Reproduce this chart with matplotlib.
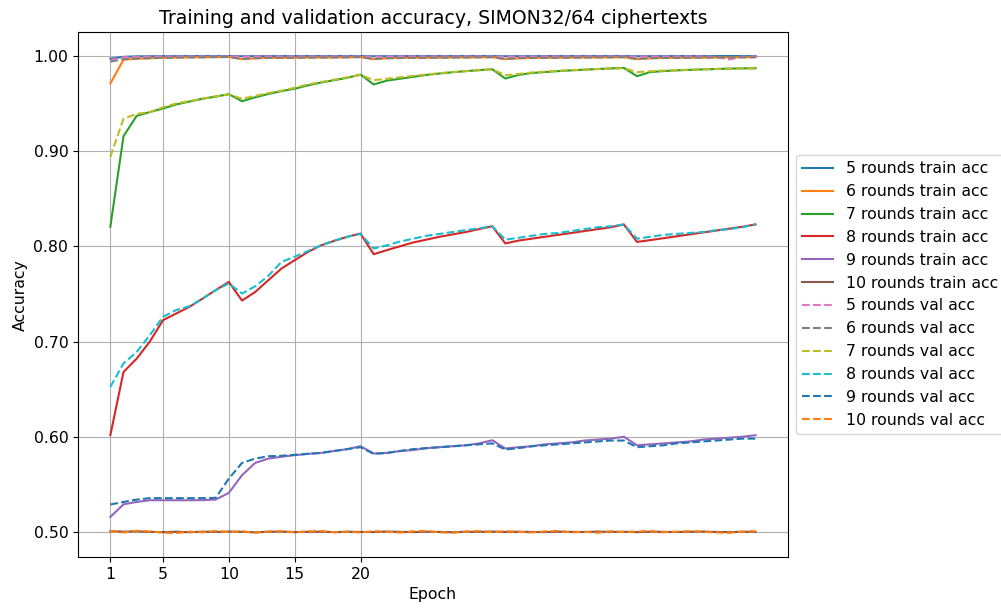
import numpy as np
import matplotlib
matplotlib.use("Agg")
import matplotlib.pyplot as plt

plt.rcParams["font.size"] = 11.3

epochs = list(range(1, 51))
rounds = [5, 6, 7, 8, 9, 10]

# training accuracy per number of rounds
train_5 = [0.9970, 0.9990, 0.9995, 0.9996, 0.9997, 0.9997, 0.9998, 0.9998, 0.9998, 0.9998,
           0.9996, 0.9997, 0.9997, 0.9998, 0.9998, 0.9998, 0.9998, 0.9998, 0.9998, 0.9998,
           0.9996, 0.9997, 0.9997, 0.9998, 0.9998, 0.9998, 0.9998, 0.9998, 0.9998, 0.9998,
           0.9996, 0.9997, 0.9997, 0.9998, 0.9998, 0.9998, 0.9998, 0.9998, 0.9998, 0.9998,
           0.9996, 0.9997, 0.9997, 0.9998, 0.9998, 0.9998, 0.9998, 0.9998, 0.9998, 0.9998]
train_6 = [0.9710, 0.9960, 0.9970, 0.9975, 0.9980, 0.9982, 0.9985, 0.9986, 0.9988, 0.9990,
           0.9965, 0.9975, 0.9978, 0.9980, 0.9981, 0.9982, 0.9983, 0.9984, 0.9985, 0.9988,
           0.9965, 0.9975, 0.9978, 0.9980, 0.9981, 0.9982, 0.9983, 0.9984, 0.9985, 0.9987,
           0.9966, 0.9975, 0.9978, 0.9980, 0.9981, 0.9982, 0.9983, 0.9984, 0.9985, 0.9987,
           0.9966, 0.9975, 0.9978, 0.9980, 0.9981, 0.9982, 0.9983, 0.9984, 0.9985, 0.9986]
train_7 = [0.8204, 0.9157, 0.9370, 0.9410, 0.9447, 0.9490, 0.9520, 0.9550, 0.9572, 0.9598,
           0.9524, 0.9565, 0.9600, 0.9630, 0.9655, 0.9690, 0.9720, 0.9745, 0.9770, 0.9804,
           0.9700, 0.9740, 0.9760, 0.9780, 0.9800, 0.9815, 0.9828, 0.9840, 0.9850, 0.9860,
           0.9762, 0.9800, 0.9820, 0.9830, 0.9840, 0.9848, 0.9855, 0.9862, 0.9868, 0.9874,
           0.9787, 0.9830, 0.9840, 0.9848, 0.9853, 0.9858, 0.9862, 0.9866, 0.9869, 0.9870]
train_8 = [0.6016, 0.6680, 0.6820, 0.7000, 0.7224, 0.7294, 0.7364, 0.7450, 0.7540, 0.7626,
           0.7430, 0.7520, 0.7644, 0.7767, 0.7854, 0.7940, 0.8010, 0.8057, 0.8100, 0.8134,
           0.7917, 0.7960, 0.8000, 0.8040, 0.8070, 0.8100, 0.8125, 0.8150, 0.8180, 0.8211,
           0.8030, 0.8060, 0.8080, 0.8100, 0.8120, 0.8140, 0.8160, 0.8180, 0.8200, 0.8229,
           0.8046, 0.8065, 0.8085, 0.8105, 0.8125, 0.8145, 0.8165, 0.8185, 0.8205, 0.8230]
train_9 = [0.5157, 0.5290, 0.5315, 0.5333, 0.5333, 0.5333, 0.5333, 0.5334, 0.5340, 0.5410,
           0.5596, 0.5725, 0.5770, 0.5790, 0.5806, 0.5820, 0.5830, 0.5850, 0.5870, 0.5900,
           0.5824, 0.5830, 0.5850, 0.5860, 0.5880, 0.5890, 0.5900, 0.5910, 0.5930, 0.5963,
           0.5876, 0.5890, 0.5900, 0.5920, 0.5930, 0.5940, 0.5960, 0.5970, 0.5980, 0.6000,
           0.5910, 0.5920, 0.5930, 0.5940, 0.5950, 0.5970, 0.5980, 0.5990, 0.6000, 0.6016]
train_10 = [0.5008, 0.5003, 0.5006, 0.5001, 0.4998, 0.5002, 0.4997, 0.5003, 0.5000, 0.5004,
            0.5001, 0.4996, 0.5002, 0.5004, 0.4999, 0.5001, 0.5003, 0.4998, 0.5002, 0.5000,
            0.4999, 0.5004, 0.5001, 0.4998, 0.5003, 0.5000, 0.4997, 0.5002, 0.5001, 0.5004,
            0.4999, 0.5002, 0.5000, 0.4998, 0.5003, 0.5001, 0.4999, 0.5004, 0.5000, 0.5002,
            0.4998, 0.5003, 0.5001, 0.4999, 0.5002, 0.5004, 0.5000, 0.4998, 0.5002, 0.5001]

# validation accuracy per number of rounds
val_5 = [0.9955, 0.9985, 0.9990, 0.9992, 0.9993, 0.9993, 0.9994, 0.9994, 0.9994, 0.9994,
         0.9992, 0.9993, 0.9993, 0.9994, 0.9994, 0.9994, 0.9994, 0.9994, 0.9994, 0.9994,
         0.9992, 0.9993, 0.9993, 0.9994, 0.9994, 0.9994, 0.9994, 0.9994, 0.9994, 0.9994,
         0.9992, 0.9993, 0.9993, 0.9994, 0.9994, 0.9994, 0.9994, 0.9994, 0.9994, 0.9994,
         0.9992, 0.9993, 0.9993, 0.9994, 0.9994, 0.9994, 0.9990, 0.9962, 0.9992, 0.9994]
val_6 = [0.9940, 0.9965, 0.9972, 0.9976, 0.9980, 0.9982, 0.9984, 0.9985, 0.9987, 0.9988,
         0.9968, 0.9976, 0.9979, 0.9980, 0.9981, 0.9982, 0.9983, 0.9984, 0.9985, 0.9987,
         0.9968, 0.9976, 0.9978, 0.9980, 0.9981, 0.9982, 0.9983, 0.9984, 0.9985, 0.9986,
         0.9968, 0.9976, 0.9978, 0.9980, 0.9981, 0.9982, 0.9983, 0.9984, 0.9985, 0.9986,
         0.9968, 0.9976, 0.9978, 0.9980, 0.9981, 0.9982, 0.9983, 0.9984, 0.9985, 0.9986]
val_7 = [0.8940, 0.9340, 0.9390, 0.9410, 0.9460, 0.9500, 0.9525, 0.9550, 0.9575, 0.9595,
         0.9550, 0.9580, 0.9610, 0.9635, 0.9665, 0.9700, 0.9725, 0.9750, 0.9775, 0.9800,
         0.9745, 0.9760, 0.9775, 0.9790, 0.9805, 0.9818, 0.9830, 0.9840, 0.9850, 0.9858,
         0.9797, 0.9810, 0.9825, 0.9835, 0.9843, 0.9850, 0.9856, 0.9862, 0.9867, 0.9870,
         0.9830, 0.9838, 0.9845, 0.9850, 0.9855, 0.9860, 0.9863, 0.9866, 0.9868, 0.9870]
val_8 = [0.6523, 0.6770, 0.6890, 0.7066, 0.7260, 0.7330, 0.7370, 0.7450, 0.7540, 0.7610,
         0.7504, 0.7580, 0.7690, 0.7836, 0.7890, 0.7950, 0.8010, 0.8060, 0.8100, 0.8130,
         0.7977, 0.8010, 0.8050, 0.8080, 0.8110, 0.8130, 0.8150, 0.8170, 0.8190, 0.8210,
         0.8070, 0.8090, 0.8110, 0.8130, 0.8140, 0.8160, 0.8180, 0.8200, 0.8210, 0.8230,
         0.8080, 0.8100, 0.8120, 0.8130, 0.8140, 0.8150, 0.8170, 0.8180, 0.8200, 0.8230]
val_9 = [0.5288, 0.5315, 0.5340, 0.5355, 0.5355, 0.5355, 0.5355, 0.5355, 0.5358, 0.5560,
         0.5725, 0.5770, 0.5795, 0.5800, 0.5810, 0.5820, 0.5830, 0.5850, 0.5870, 0.5890,
         0.5820, 0.5830, 0.5850, 0.5870, 0.5880, 0.5890, 0.5900, 0.5910, 0.5920, 0.5930,
         0.5866, 0.5880, 0.5900, 0.5910, 0.5920, 0.5930, 0.5940, 0.5950, 0.5960, 0.5960,
         0.5890, 0.5900, 0.5910, 0.5930, 0.5940, 0.5950, 0.5960, 0.5970, 0.5980, 0.5980]
val_10 = [0.5010, 0.4995, 0.5012, 0.5005, 0.4993, 0.4988, 0.5003, 0.4996, 0.5010, 0.4998,
          0.5007, 0.4992, 0.5004, 0.5008, 0.4995, 0.5006, 0.5010, 0.4997, 0.5003, 0.4994,
          0.5008, 0.5002, 0.4993, 0.5007, 0.5010, 0.4996, 0.4991, 0.5004, 0.5009, 0.4997,
          0.5008, 0.5001, 0.4994, 0.5006, 0.5010, 0.4995, 0.5002, 0.4991, 0.5007, 0.4998,
          0.5005, 0.5009, 0.4996, 0.5003, 0.5008, 0.5001, 0.4994, 0.4990, 0.5004, 0.5008]

train = [train_5, train_6, train_7, train_8, train_9, train_10]
val = [val_5, val_6, val_7, val_8, val_9, val_10]

fig = plt.figure(figsize=(10.01, 6.08), dpi=100)
ax = fig.add_axes([0.078, 0.084, 0.709, 0.863])

for r, acc in zip(rounds, train):
    ax.plot(epochs, acc, label=f"{r} rounds train acc")
for r, acc in zip(rounds, val):
    ax.plot(epochs, acc, "--", label=f"{r} rounds val acc")

ax.set_title("Training and validation accuracy, SIMON32/64 ciphertexts")
ax.set_xlabel("Epoch")
ax.set_ylabel("Accuracy")
ax.set_xticks([1, 5, 10, 15, 20])
ax.yaxis.set_major_formatter(matplotlib.ticker.FormatStrFormatter("%.2f"))
ax.grid(True)
ax.legend(loc="center left", bbox_to_anchor=(1.0, 0.5))

fig.savefig("out.png", dpi=100)
